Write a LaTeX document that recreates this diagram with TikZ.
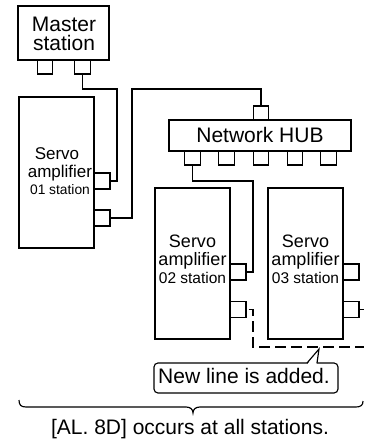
\documentclass[tikz,border=0pt]{standalone}
\usepackage{fontspec}
\setmainfont{Liberation Sans}
\begin{document}
\begin{tikzpicture}[x=1pt,y=-1pt,line width=1.15pt,
  box/.style={draw,rectangle,inner sep=0pt,outer sep=0pt},
  port/.style={draw,rectangle,inner sep=0pt,outer sep=0pt,minimum width=16pt,minimum height=16pt},
  mport/.style={port,minimum width=15.5pt,minimum height=14pt},
  txt/.style={inner sep=0pt,anchor=base},
  big/.style={font=\fontsize{21}{21}\selectfont},
  mid/.style={font=\fontsize{18}{18}\selectfont},
  sml/.style={font=\fontsize{15.5}{15.5}\selectfont},
  mida/.style={font=\fontsize{17}{17}\selectfont},
  smla/.style={font=\fontsize{13.8}{13.8}\selectfont},
  dashline/.style={dash pattern=on 10.5pt off 5.5pt,dash phase=13.3pt}]
\useasboundingbox (0,0) rectangle (364,444);
% master station
\node[box,minimum width=91pt,minimum height=54pt] (master) at (63.5,33) {};
\node[txt,big] (mt1) at (64,32) {Master};
\node[txt,big] (mt2) at (64,51) {station};
\node[mport] (mp1) at (45,67) {};
\node[mport] (mp2) at (82.5,67) {};
% servo 01
\node[box,minimum width=75pt,minimum height=151pt] (s1) at (56.5,172.5) {};
\node[txt,mida] (s1t1) at (57,159.5) {Servo};
\node[txt,mida] (s1t2) at (60,177) {amplifier};
\node[txt,smla] (s1t3) at (60,194) {01 station};
\node[port] (s1a) at (102,181) {};
\node[port] (s1b) at (102,218) {};
% hub
\node[box,minimum width=182pt,minimum height=31pt] (hub) at (260,135.5) {};
\node[txt,big] (hubt) at (260,142) {Network HUB};
\node[mport] (hp0) at (261,113) {};
\node[mport] (hp1) at (192.5,158) {};
\node[mport] (hp2) at (226.5,158) {};
\node[mport] (hp3) at (261,158) {};
\node[mport] (hp4) at (295,158) {};
\node[mport] (hp5) at (328.5,158) {};
% servo 02
\node[box,minimum width=75pt,minimum height=151pt] (s2) at (192.5,263.5) {};
\node[txt,mid] (s2t1) at (192.5,247) {Servo};
\node[txt,mid] (s2t2) at (192.5,265) {amplifier};
\node[txt,sml] (s2t3) at (192.5,283) {02 station};
\node[port] (s2a) at (238,272) {};
\node[port] (s2b) at (238,309.5) {};
% servo 03
\node[box,minimum width=75pt,minimum height=151pt] (s3) at (305.5,263.5) {};
\node[txt,mid] (s3t1) at (305.5,247) {Servo};
\node[txt,mid] (s3t2) at (305.5,265) {amplifier};
\node[txt,sml] (s3t3) at (305.5,283) {03 station};
\node[port] (s3a) at (351,272) {};
\node[port] (s3b) at (351,309.5) {};
% wires
\coordinate (j1) at (117,89);
\coordinate (j2) at (132,89);
\coordinate (j3) at (253,181);
\coordinate (j4) at (253,347);
\coordinate (edge1) at (364,309.5);
\coordinate (edge2) at (364,347);
\draw (mp2.south) |- (j1) |- (s1a.east);
\draw (s1b.east) -| (j2) -| (hp0.north);
\draw (hp1.south) |- (j3) |- (s2a.east);
\draw (s3b.east) -- (edge1);
\draw[dashline] (s2b.east) -| (j4) -- (edge2);
% callout
\node[draw,rounded corners=4pt,minimum width=184pt,minimum height=30pt,inner sep=0pt] (callbox) at (246,378) {};
\node[txt,big] (callout) at (244,383) {New line is added.};
\fill[white] (307.8,363.8) -- (319,349.5) -- (316.6,363.8) -- cycle;
\draw[line join=miter] (307,363) -- (319,349) -- (317,363);
% brace
\draw (19,400) .. controls (19,405) and (21,407) .. (26,407) -- (186,407)
  .. controls (190,407) and (193,409) .. (193,413)
  .. controls (193,409) and (196,407) .. (200,407) -- (356,407)
  .. controls (361,407) and (363,405) .. (363,401);
\node[txt,big] (note) at (190,434) {[AL. 8D] occurs at all stations.};
\end{tikzpicture}
\end{document}
